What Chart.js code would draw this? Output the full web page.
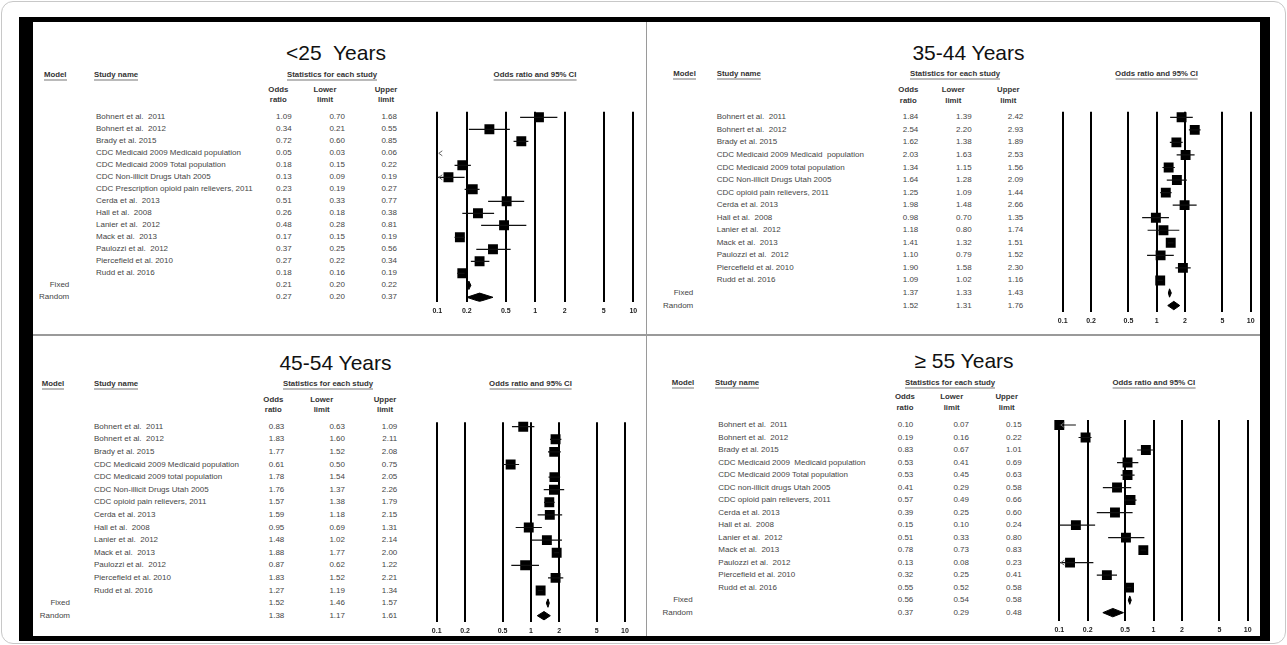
<!DOCTYPE html>
<html>
<head>
<meta charset="utf-8">
<script src="https://cdn.jsdelivr.net/npm/chart.js@4.4.1/dist/chart.umd.min.js"></script>
<style>
  html, body { margin: 0; padding: 0; background: #fff; }
  body { width: 1287px; height: 645px; position: relative; overflow: hidden;
         font-family: "Liberation Sans", Arial, Helvetica, sans-serif; }
  .abs { position: absolute; white-space: pre; }
  .title { font-size: 21px; line-height: 24px; color: #111; }
  .hdr { font-size: 7.8px; line-height: 9px; font-weight: bold; color: #333;
         border-bottom: 1px solid #777; padding-bottom: 1px; }
  .col { font-size: 7.8px; line-height: 10px; font-weight: bold; color: #333; text-align: center; }
  .cell { font-size: 8px; line-height: 10px; color: #454545; }
  .frame { position: absolute; box-sizing: border-box; }
</style>
</head>
<body>
<div class="frame" style="left:1px;top:1px;width:1285px;height:643px;border:1.5px solid #c8c8c8;border-radius:12px;"></div>
<div class="frame" style="left:19px;top:17px;width:1251px;height:624px;border-style:solid;border-color:#000;border-width:5px 10px 5px 14px;"></div>
<div class="frame" style="left:645.5px;top:22px;width:1.5px;height:614px;background:#9a9a9a;"></div>
<div class="frame" style="left:33px;top:334px;width:1227px;height:1.5px;background:#9a9a9a;"></div>

<script>
// Axis ticks shared by all four forest plots
const tickValues = [0.1, 0.2, 0.5, 1, 2, 5, 10];
const tickLabels = ["0.1", "0.2", "0.5", "1", "2", "5", "10"];
const modelLabels = ["Fixed", "Random"];

// <25 years
const namesU25 = ["Bohnert et al.  2011", "Bohnert et al.  2012", "Brady et al. 2015",
  "CDC Medicaid 2009 Medicaid population", "CDC Medicaid 2009 Total population",
  "CDC Non-illicit Drugs Utah 2005", "CDC Prescription opioid pain relievers, 2011",
  "Cerda et al.  2013", "Hall et al.  2008", "Lanier et al.  2012", "Mack et al.  2013",
  "Paulozzi et al.  2012", "Piercefield et al. 2010", "Rudd et al. 2016"];
const orU25  = [1.09, 0.34, 0.72, 0.05, 0.18, 0.13, 0.23, 0.51, 0.26, 0.48, 0.17, 0.37, 0.27, 0.18, 0.21, 0.27];
const lowU25 = [0.70, 0.21, 0.60, 0.03, 0.15, 0.09, 0.19, 0.33, 0.18, 0.28, 0.15, 0.25, 0.22, 0.16, 0.20, 0.20];
const upU25  = [1.68, 0.55, 0.85, 0.06, 0.22, 0.19, 0.27, 0.77, 0.38, 0.81, 0.19, 0.56, 0.34, 0.19, 0.22, 0.37];

// 35-44 years
const names3544 = ["Bohnert et al.  2011", "Bohnert et al.  2012", "Brady et al. 2015",
  "CDC Medicaid 2009 Medicaid  population", "CDC Medicaid 2009 total population",
  "CDC Non-illicit Drugs Utah 2005", "CDC opioid pain relievers, 2011",
  "Cerda et al. 2013", "Hall et al.  2008", "Lanier et al.  2012", "Mack et al.  2013",
  "Paulozzi et al.  2012", "Piercefield et al. 2010", "Rudd et al. 2016"];
const or3544  = [1.84, 2.54, 1.62, 2.03, 1.34, 1.64, 1.25, 1.98, 0.98, 1.18, 1.41, 1.10, 1.90, 1.09, 1.37, 1.52];
const low3544 = [1.39, 2.20, 1.38, 1.63, 1.15, 1.28, 1.09, 1.48, 0.70, 0.80, 1.32, 0.79, 1.58, 1.02, 1.33, 1.31];
const up3544  = [2.42, 2.93, 1.89, 2.53, 1.56, 2.09, 1.44, 2.66, 1.35, 1.74, 1.51, 1.52, 2.30, 1.16, 1.43, 1.76];

// 45-54 years
const names4554 = ["Bohnert et al.  2011", "Bohnert et al.  2012", "Brady et al. 2015",
  "CDC Medicaid 2009 Medicaid population", "CDC Medicaid 2009 total population",
  "CDC Non-illicit Drugs Utah 2005", "CDC opioid pain relievers, 2011",
  "Cerda et al. 2013", "Hall et al.  2008", "Lanier et al.  2012", "Mack et al.  2013",
  "Paulozzi et al.  2012", "Piercefield et al. 2010", "Rudd et al. 2016"];
const or4554  = [0.83, 1.83, 1.77, 0.61, 1.78, 1.76, 1.57, 1.59, 0.95, 1.48, 1.88, 0.87, 1.83, 1.27, 1.52, 1.38];
const low4554 = [0.63, 1.60, 1.52, 0.50, 1.54, 1.37, 1.38, 1.18, 0.69, 1.02, 1.77, 0.62, 1.52, 1.19, 1.46, 1.17];
const up4554  = [1.09, 2.11, 2.08, 0.75, 2.05, 2.26, 1.79, 2.15, 1.31, 2.14, 2.00, 1.22, 2.21, 1.34, 1.57, 1.61];

// 55 years and older
const names55 = ["Bohnert et al.  2011", "Bohnert et al.  2012", "Brady et al. 2015",
  "CDC Medicaid 2009  Medicaid population", "CDC Medicaid 2009 Total population",
  "CDC non-illicit drugs Utah 2005", "CDC opioid pain relievers, 2011",
  "Cerda et al. 2013", "Hall et al.  2008", "Lanier et al.  2012", "Mack et al.  2013",
  "Paulozzi et al.  2012", "Piercefield et al. 2010", "Rudd et al. 2016"];
const or55  = [0.10, 0.19, 0.83, 0.53, 0.53, 0.41, 0.57, 0.39, 0.15, 0.51, 0.78, 0.13, 0.32, 0.55, 0.56, 0.37];
const low55 = [0.07, 0.16, 0.67, 0.41, 0.45, 0.29, 0.49, 0.25, 0.10, 0.33, 0.73, 0.08, 0.25, 0.52, 0.54, 0.29];
const up55  = [0.15, 0.22, 1.01, 0.69, 0.63, 0.58, 0.66, 0.60, 0.24, 0.80, 0.83, 0.23, 0.41, 0.58, 0.58, 0.48];

// Page placement of each panel (plot area, first row, row pitch, text columns)
const panels = [
  { title: "<25  Years", names: namesU25, or: orU25, lo: lowU25, hi: upU25,
    area: { l: 437.3, r: 633.3, t: 111.7, b: 301.7 }, row0: 117.3, pitch: 12.0,
    titleX: 336, titleY: 53.3, headY: 73.5, colY: [90, 100.3],
    modelX: 44, studyX: 94, namesX: 96, statsX: 287, ciX: 535,
    colX: [278.3, 325, 386], numX: [291.7, 345, 397], poolX: 69.3 },
  { title: "35-44 Years", names: names3544, or: or3544, lo: low3544, hi: up3544,
    area: { l: 1062.7, r: 1250.7, t: 111.7, b: 311.7 }, row0: 117.3, pitch: 12.55,
    titleX: 968.5, titleY: 53.3, headY: 73.3, colY: [90, 100.7],
    modelX: 673.3, studyX: 716.7, namesX: 716.7, statsX: 910, ciX: 1156.5,
    colX: [908.3, 953.3, 1008.3], numX: [918.3, 971.7, 1023.3], poolX: 693.3 },
  { title: "45-54 Years", names: names4554, or: or4554, lo: low4554, hi: up4554,
    area: { l: 436.7, r: 625, t: 422.3, b: 622 }, row0: 426.7, pitch: 12.6,
    titleX: 335.5, titleY: 363.3, headY: 383.3, colY: [400, 410.3],
    modelX: 41.7, studyX: 94, namesX: 94, statsX: 283, ciX: 530.5,
    colX: [273.3, 321.7, 385], numX: [284.3, 345, 397.3], poolX: 70 },
  { title: "\u2265 55 Years", names: names55, or: or55, lo: low55, hi: up55,
    area: { l: 1059.3, r: 1247.7, t: 420, b: 621 }, row0: 425, pitch: 12.51,
    titleX: 964, titleY: 360.5, headY: 381.7, colY: [396.7, 407.7],
    modelX: 671.7, studyX: 715, namesX: 718.3, statsX: 905, ciX: 1153.8,
    colX: [905, 951.7, 1006.7], numX: [913.3, 969, 1021.7], poolX: 692.7 }
];

function put(text, x, y, cls, align, lh) {
  const d = document.createElement('div');
  d.className = 'abs ' + cls;
  d.textContent = text;
  d.style.left = x + 'px';
  d.style.top = y + 'px';
  const tx = align === 'c' ? '-50%' : align === 'r' ? '-100%' : '0';
  d.style.transform = 'translate(' + tx + ',' + (-(lh || 10) / 2) + 'px)';
  document.body.appendChild(d);
  return d;
}

function drawPanel(p) {
  const padL = 12, padR = 12, padT = 8, padB = 2, axisH = 16;
  const cx = Math.floor(p.area.l) - padL;
  const cy = Math.floor(p.area.t) - padT;
  const w = Math.ceil(p.area.r + padR - cx);
  const h = Math.ceil(p.area.b + axisH + padB - cy);
  const canvas = document.createElement('canvas');
  canvas.width = w; canvas.height = h;
  canvas.style.cssText = 'position:absolute;left:' + cx + 'px;top:' + cy + 'px;width:' + w + 'px;height:' + h + 'px';
  document.body.appendChild(canvas);

  const n = p.names.length;
  const datasets = [];
  // confidence interval whiskers
  for (let i = 0; i < n; i++) {
    datasets.push({ data: [{ x: p.lo[i], y: i }, { x: p.hi[i], y: i }], showLine: true,
      borderColor: '#111', borderWidth: 1.2, pointRadius: 0 });
  }
  // study point estimates
  datasets.push({ data: p.names.map((_, i) => ({ x: p.or[i], y: i })), pointStyle: 'rect',
    pointRadius: 7, backgroundColor: '#000', borderWidth: 0,
    clip: { left: 7, right: 7, top: 8, bottom: 8 } });
  // pooled estimates as diamonds
  const hh = 4.2 / p.pitch;
  for (let k = 0; k < modelLabels.length; k++) {
    const i = n + k;
    datasets.push({ data: [{ x: p.lo[i], y: i }, { x: p.or[i], y: i - hh }, { x: p.hi[i], y: i },
      { x: p.or[i], y: i + hh }, { x: p.lo[i], y: i }], showLine: true, fill: 'shape',
      backgroundColor: '#000', borderColor: '#000', borderWidth: 1, pointRadius: 0, tension: 0 });
  }

  // small arrow where an interval runs past the left end of the axis
  const arrows = {
    id: 'clipArrows',
    afterDatasetsDraw(chart) {
      const xs = chart.scales.x, ys = chart.scales.y, ctx = chart.ctx;
      ctx.save();
      ctx.strokeStyle = '#666'; ctx.lineWidth = 1;
      for (let i = 0; i < n; i++) {
        if (p.lo[i] < xs.min) {
          const x = xs.getPixelForValue(xs.min) + 1.5, y = ys.getPixelForValue(i);
          ctx.beginPath();
          ctx.moveTo(x + 3.5, y - 2.5); ctx.lineTo(x, y); ctx.lineTo(x + 3.5, y + 2.5);
          ctx.stroke();
        }
      }
      ctx.restore();
    }
  };

  const chart = new Chart(canvas, {
    type: 'scatter',
    data: { datasets },
    options: {
      responsive: false, animation: false, events: [], devicePixelRatio: 1,
      layout: { padding: { left: p.area.l - cx, right: cx + w - p.area.r, top: p.area.t - cy,
                           bottom: cy + h - p.area.b - axisH } },
      plugins: { legend: { display: false }, tooltip: { enabled: false } },
      scales: {
        x: {
          type: 'logarithmic', min: 0.1, max: 10,
          afterBuildTicks: s => { s.ticks = tickValues.map(v => ({ value: v })); },
          afterFit: s => { s.height = axisH; },
          grid: { color: '#000', lineWidth: 2, drawTicks: false },
          border: { display: false },
          ticks: { padding: 5, autoSkip: false, maxRotation: 0, color: '#222',
                   font: { family: '"Liberation Sans", Arial, sans-serif', size: 7, weight: 'bold' },
                   callback: (v, i) => tickLabels[i] }
        },
        y: { type: 'linear', display: false, reverse: true,
             min: -(p.row0 - p.area.t) / p.pitch, max: (p.area.b - p.row0) / p.pitch }
      }
    },
    plugins: [arrows]
  });

  // table text, rows placed on the chart's own row scale
  const rowY = i => cy + chart.scales.y.getPixelForValue(i);
  put(p.title, p.titleX, p.titleY, 'title', 'c', 24);
  put('Model', p.modelX, p.headY, 'hdr', 'l', 9);
  put('Study name', p.studyX, p.headY, 'hdr', 'l', 9);
  put('Statistics for each study', p.statsX, p.headY, 'hdr', 'l', 9);
  put('Odds ratio and 95% CI', p.ciX, p.headY, 'hdr', 'c', 9);
  const colHeads = [['Odds', 'ratio'], ['Lower', 'limit'], ['Upper', 'limit']];
  colHeads.forEach((pair, c) => {
    put(pair[0], p.colX[c], p.colY[0], 'col', 'c', 10);
    put(pair[1], p.colX[c], p.colY[1], 'col', 'c', 10);
  });
  for (let i = 0; i < n + modelLabels.length; i++) {
    const y = rowY(i);
    if (i < n) put(p.names[i], p.namesX, y, 'cell', 'l', 10);
    else put(modelLabels[i - n], p.poolX, y, 'cell', 'r', 10);
    put(p.or[i].toFixed(2), p.numX[0], y, 'cell', 'r', 10);
    put(p.lo[i].toFixed(2), p.numX[1], y, 'cell', 'r', 10);
    put(p.hi[i].toFixed(2), p.numX[2], y, 'cell', 'r', 10);
  }
}

panels.forEach(drawPanel);
</script>
</body>
</html>
